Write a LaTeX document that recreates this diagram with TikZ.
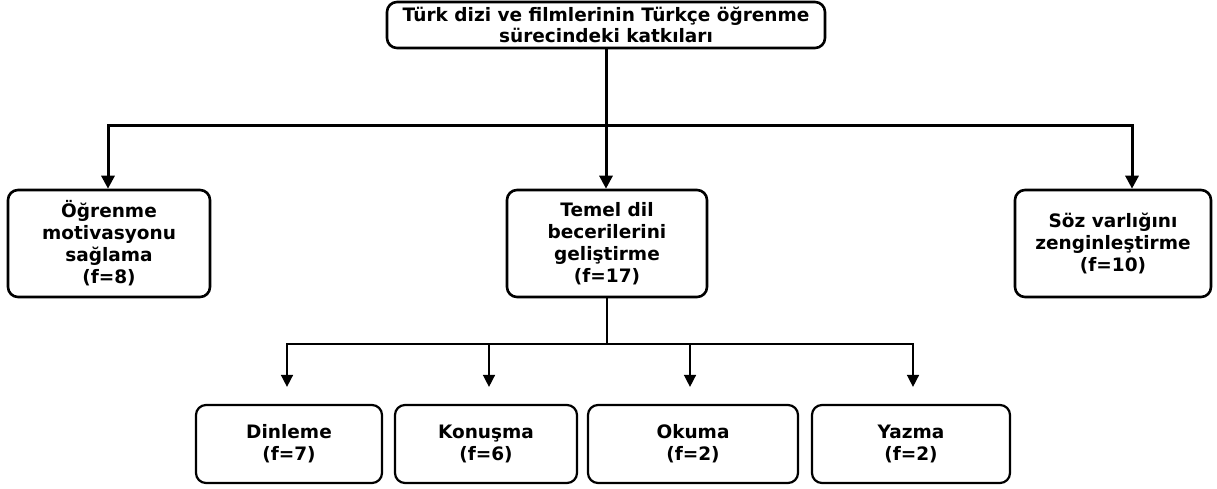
\documentclass[tikz,border=0pt]{standalone}
\usepackage{fontspec}
\setmainfont{DejaVu Sans}
\usetikzlibrary{arrows.meta}
\tikzset{
  box/.style     = {shape=rectangle, rounded corners=10pt, draw, line width=2.6pt,
                    align=center, font=\bfseries\fontsize{18.5}{22}\selectfont,
                    inner sep=0pt},
  rootbox/.style = {box, minimum width=438pt, minimum height=46pt},
  mainbox/.style = {box, minimum height=107pt},
  skillbox/.style= {box, minimum height=78pt, line width=2.2pt},
  bigarrow/.style  = {line width=3pt, -{Triangle[length=13pt,width=13pt]}},
  smallarrow/.style= {line width=1.5pt, -{Triangle[length=12pt,width=12pt]}}
}
\begin{document}
\begin{tikzpicture}[x=1pt, y=-1pt]
  \useasboundingbox (0,0) rectangle (1217,488);
  % top
  \node [rootbox] (root) at (606,25) {Türk dizi ve filmlerinin Türkçe öğrenme\\[-1.5pt]sürecindeki katkıları};
  % main contributions
  \node [mainbox, minimum width=202pt] (motiv) at (109,243.5) {Öğrenme\\motivasyonu\\sağlama\\(f=8)};
  \node [mainbox, minimum width=200pt] (temel) at (607,243.5) {Temel dil\\becerilerini\\geliştirme\\(f=17)};
  \node [mainbox, minimum width=196pt] (soz)   at (1113,243.5) {Söz varlığını\\zenginleştirme\\(f=10)};
  % skills
  \node [skillbox, minimum width=186pt] (dinle) at (289,444) {Dinleme\\(f=7)};
  \node [skillbox, minimum width=182pt] (konus) at (486,444) {Konuşma\\(f=6)};
  \node [skillbox, minimum width=210pt] (okuma) at (693,444) {Okuma\\(f=2)};
  \node [skillbox, minimum width=198pt] (yazma) at (911,444) {Yazma\\(f=2)};

  \coordinate (j1) at (606,125);
  \coordinate (j2) at (607,344);
  \draw [line width=3pt] (root) -- (j1);
  \draw [bigarrow] (j1) -| ([xshift=-1pt]motiv.north);
  \draw [bigarrow] (j1) -- (temel.north -| j1);
  \draw [bigarrow] (j1) -| ([xshift=19pt]soz.north);

  \draw [line width=1.5pt] (temel) -- (j2);
  \draw [smallarrow] (j2) -| ([xshift=-2pt,yshift=17pt]dinle.north);
  \draw [smallarrow] (j2) -| ([xshift=3pt,yshift=17pt]konus.north);
  \draw [smallarrow] (j2) -| ([xshift=-3pt,yshift=17pt]okuma.north);
  \draw [smallarrow] (j2) -| ([xshift=2pt,yshift=17pt]yazma.north);
\end{tikzpicture}
\end{document}
